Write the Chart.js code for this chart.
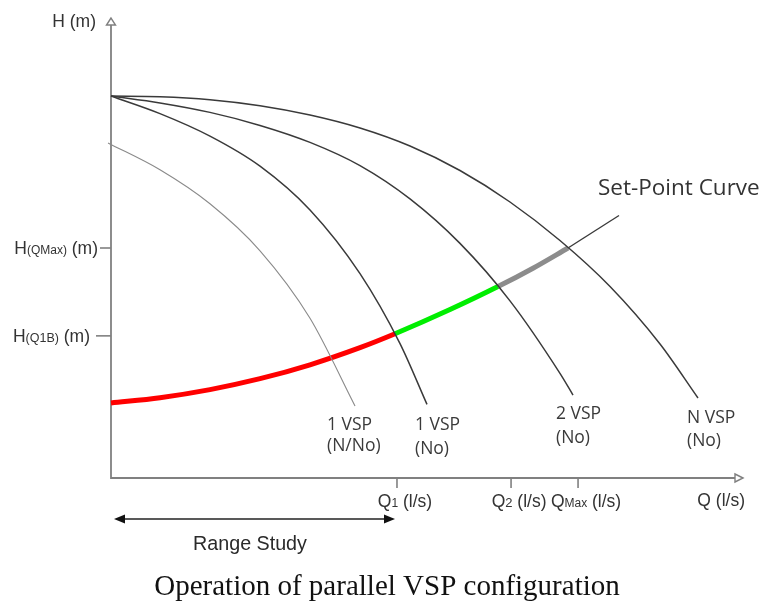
<!DOCTYPE html>
<html><head><meta charset="utf-8">
<script src="https://cdn.jsdelivr.net/npm/chart.js@4.4.1/dist/chart.umd.min.js"></script>
<style>html,body{margin:0;padding:0;background:#fff}#wrap{width:764px;height:601px}</style>
</head><body><div id="wrap"><canvas id="c" width="764" height="601"></canvas></div>
<script>
// ---- data (schematic units: Q 0..100, H 0..100) ----
const qTickNames = ['1', '2', 'Max'];
const qTickValues = [45.25, 63.3, 73.9];
const hTickNames = ['(QMax)', '(Q1B)'];
const hTickValues = [50.0, 30.9];

const qNVSP = [0, 7.75, 15.66, 23.58, 31.49, 39.40, 47.31, 55.22, 63.13, 71.04, 78.96, 86.87, 92.88];
const hNVSP = [83.04, 82.89, 82.24, 80.93, 78.91, 76.09, 72.17, 66.85, 60.0, 51.63, 41.63, 29.13, 17.39];
const q2VSP = [0, 7.75, 15.66, 23.58, 31.49, 39.40, 47.31, 55.22, 63.13, 71.04, 73.10];
const h2VSP = [83.04, 81.54, 79.48, 76.65, 72.96, 67.91, 60.67, 51.0, 38.5, 22.74, 18.04];
const q1VSP = [0, 7.75, 15.66, 23.58, 31.49, 39.40, 45.73, 50.0];
const h1VSP = [83.04, 79.22, 74.33, 67.80, 58.28, 44.43, 29.22, 16.0];
const q1VSPnn = [-0.47, 7.75, 15.66, 23.58, 31.49, 38.61];
const h1VSPnn = [72.83, 67.0, 59.61, 49.39, 34.72, 15.65];
// set-point curve: red up to Q1, green up to the 2 VSP crossing, gray up to the N VSP crossing
const qSet = [0, 7.75, 15.66, 23.58, 31.49, 39.40, 44.94, 53.64, 61.23, 66.77, 72.31];
const hSet = [16.30, 17.46, 19.22, 21.59, 24.61, 28.33, 31.35, 36.61, 41.61, 45.61, 50.0];
const setColors = ['#ff0000', '#ff0000', '#ff0000', '#ff0000', '#ff0000', '#ff0000', '#00ee00', '#00ee00', '#8c8c8c', '#8c8c8c'];
const qSetExt = [72.31, 80.38];
const hSetExt = [50.0, 57.07];

const curveLabels = [
  ['1 VSP', 34.18, 10.43], ['(N/No)', 34.18, 5.87],
  ['1 VSP', 48.10, 10.54], ['(No)', 48.10, 5.22],
  ['2 VSP', 70.41, 12.83], ['(No)', 70.41, 7.61],
  ['N VSP', 91.14, 11.96], ['(No)', 91.14, 6.96]
];

const pts = (xs, ys) => xs.map((v, i) => ({x: v, y: ys[i]}));

const SANS = '"Liberation Sans", Arial, sans-serif';
const UI = '"Open Sans", "Noto Sans", sans-serif';
const SERIF = '"Liberation Serif", "Times New Roman", serif';
const AX = '#808080';
const TXT = '#333333';

function rich(ctx, parts, x, y, align, family, color) {
  let total = 0;
  parts.forEach(p => { ctx.font = p[1] + 'px ' + family; total += ctx.measureText(p[0]).width; });
  let sx = align === 'right' ? x - total : align === 'center' ? x - total / 2 : x;
  ctx.textAlign = 'left'; ctx.textBaseline = 'alphabetic'; ctx.fillStyle = color;
  parts.forEach(p => { ctx.font = p[1] + 'px ' + family; ctx.fillText(p[0], sx, y); sx += ctx.measureText(p[0]).width; });
}
function seg(ctx, x1, y1, x2, y2) { ctx.beginPath(); ctx.moveTo(x1, y1); ctx.lineTo(x2, y2); ctx.stroke(); }

const schematic = {
  id: 'schematic',
  beforeDatasetsDraw(chart) {
    const {ctx, chartArea: a, scales: {x, y}} = chart;
    const x0 = x.getPixelForValue(0), y0 = y.getPixelForValue(0);
    ctx.save();
    ctx.strokeStyle = AX; ctx.lineWidth = 1.8;
    seg(ctx, x0, y0 + 1, x0, a.top + 7);
    seg(ctx, x0, y0, a.right - 8, y0);
    ctx.lineWidth = 1.4; ctx.fillStyle = '#fff';
    ctx.beginPath(); ctx.moveTo(x0, a.top); ctx.lineTo(x0 - 4.5, a.top + 7); ctx.lineTo(x0 + 4.5, a.top + 7); ctx.closePath(); ctx.fill(); ctx.stroke();
    ctx.beginPath(); ctx.moveTo(a.right, y0); ctx.lineTo(a.right - 8, y0 - 4); ctx.lineTo(a.right - 8, y0 + 4); ctx.closePath(); ctx.fill(); ctx.stroke();
    ctx.lineWidth = 1.6;
    qTickValues.forEach(v => { const px = x.getPixelForValue(v); seg(ctx, px, y0, px, y0 + 10); });
    const hLen = [11, 15];
    hTickValues.forEach((v, i) => { const py = y.getPixelForValue(v); seg(ctx, x0 - hLen[i], py, x0, py); });
    ctx.restore();
  },
  afterDraw(chart) {
    const {ctx, chartArea: a, scales: {x, y}} = chart;
    const x0 = x.getPixelForValue(0), y0 = y.getPixelForValue(0);
    ctx.save();
    rich(ctx, [['H (m)', 17.5]], x0 - 15, a.top + 9, 'right', SANS, TXT);
    rich(ctx, [['Q (l/s)', 17.5]], a.right + 2, y0 + 28, 'right', SANS, TXT);
    const xs = [12, 13, 12];
    qTickValues.forEach((v, i) => {
      rich(ctx, [['Q', 17.5], [qTickNames[i], xs[i]], [' (l/s)', 17.5]], x.getPixelForValue(v) + 8, y0 + 29, 'center', SANS, TXT);
    });
    const hOff = [13, 21], hSz = [12, 12.5];
    hTickValues.forEach((v, i) => {
      rich(ctx, [['H', 17.5], [hTickNames[i], hSz[i]], [' (m)', 17.5]], x0 - hOff[i], y.getPixelForValue(v) + 6, 'right', SANS, TXT);
    });
    curveLabels.forEach(l => rich(ctx, [[l[0], 17.5]], x.getPixelForValue(l[1]), y.getPixelForValue(l[2]), 'left', UI, '#3a3a3a'));
    rich(ctx, [['Set-Point Curve', 22.5]], x.getPixelForValue(77.06), y.getPixelForValue(61.52), 'left', UI, TXT);
    const ly = y.getPixelForValue(-8.91);
    const lx1 = x.getPixelForValue(0) + 3, lx2 = x.getPixelForValue(qTickValues[0]) - 2;
    ctx.strokeStyle = '#222'; ctx.fillStyle = '#111'; ctx.lineWidth = 1.6;
    seg(ctx, lx1 + 6, ly, lx2 - 6, ly);
    ctx.beginPath(); ctx.moveTo(lx1, ly); ctx.lineTo(lx1 + 11, ly - 4.5); ctx.lineTo(lx1 + 11, ly + 4.5); ctx.closePath(); ctx.fill();
    ctx.beginPath(); ctx.moveTo(lx2, ly); ctx.lineTo(lx2 - 11, ly - 4.5); ctx.lineTo(lx2 - 11, ly + 4.5); ctx.closePath(); ctx.fill();
    rich(ctx, [['Range Study', 19.7]], x.getPixelForValue(21.99), y.getPixelForValue(-15.65), 'center', SANS, '#2a2a2a');
    rich(ctx, [['Operation of parallel VSP configuration', 29]], chart.width / 2 + 5, chart.height - 6, 'center', SERIF, '#111');
    ctx.restore();
  }
};

const curve = (data, color, w) => ({data, showLine: true, borderColor: color, borderWidth: w, pointRadius: 0, cubicInterpolationMode: 'monotone', clip: false, fill: false});
const setCurve = curve(pts(qSet, hSet), '#ff0000', 5);
setCurve.segment = {borderColor: c => setColors[c.p0DataIndex]};

new Chart(document.getElementById('c'), {
  type: 'scatter',
  data: {datasets: [
    curve(pts(qNVSP, hNVSP), '#3a3a3a', 1.5),
    curve(pts(q2VSP, h2VSP), '#3a3a3a', 1.5),
    curve(pts(q1VSP, h1VSP), '#3a3a3a', 1.5),
    curve(pts(q1VSPnn, h1VSPnn), '#8a8a8a', 1.1),
    curve(pts(qSetExt, hSetExt), '#3a3a3a', 1.4),
    setCurve
  ]},
  options: {
    responsive: false, animation: false, devicePixelRatio: 1,
    layout: {padding: {left: 111, right: 21, top: 18, bottom: 123}},
    scales: {
      x: {type: 'linear', min: 0, max: 100, display: false},
      y: {type: 'linear', min: 0, max: 100, display: false}
    },
    plugins: {legend: {display: false}, tooltip: {enabled: false}, title: {display: false}}
  },
  plugins: [schematic]
});
</script>
</body></html>
